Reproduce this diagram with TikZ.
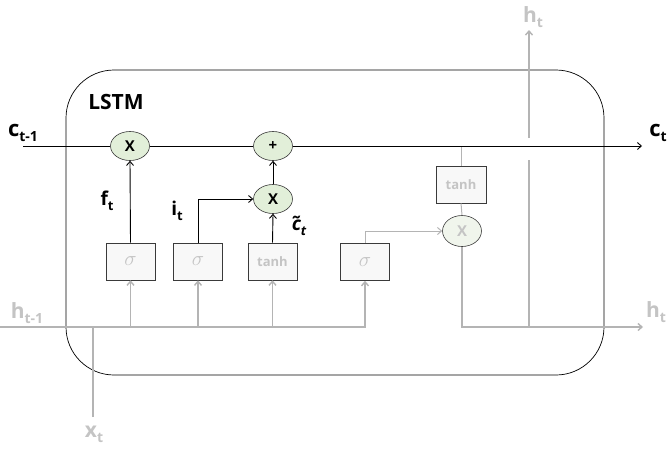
\documentclass[tikz,border=0pt]{standalone}
\usepackage{fontspec}
\setmainfont{Open Sans}
\usetikzlibrary{arrows.meta,shapes.geometric}
\definecolor{gline}{HTML}{B4B4B4}
\definecolor{gtext}{HTML}{C4C4C4}
\definecolor{boxfill}{HTML}{F8F8F8}
\definecolor{boxdraw}{HTML}{3A3A3A}
\definecolor{opfill}{HTML}{E2EFD9}
\definecolor{opfillb}{HTML}{F0F5EC}
\newcommand\mylab[3][13]{#2\raisebox{-0.45ex}{\fontsize{#1}{#1}\selectfont #3}}
\tikzset{
  tip/.style={-{Straight Barb[length=4pt,width=7pt]}},
  kline/.style={draw=black, line width=0.9pt},
  gl/.style={draw=gline, line width=1.4pt},
  opnode/.style={ellipse, draw=boxdraw, fill=opfill, line width=0.6pt, minimum width=39pt, minimum height=29pt, inner sep=0pt, font=\fontsize{15}{15}\selectfont\bfseries},
  opout/.style={opnode, fill=opfillb, text=gtext, minimum height=31pt},
  gatebox/.style={rectangle, draw=boxdraw, fill=boxfill, line width=0.6pt, minimum width=49pt, minimum height=37pt, inner sep=0pt, text=gtext},
  sig/.style={gatebox, font=\fontsize{21}{21}\selectfont},
  tnh/.style={gatebox, font=\fontsize{13}{13}\selectfont\bfseries},
  blab/.style={font=\fontsize{19}{19}\selectfont\bfseries, inner sep=0pt},
  clab/.style={blab, font=\fontsize{22}{22}\selectfont\bfseries},
  glab/.style={blab, font=\fontsize{21}{21}\selectfont\bfseries, text=gtext},
}
\begin{document}
\begin{tikzpicture}[x=1pt,y=-1pt]
\useasboundingbox (0,0) rectangle (668,448);
% frame
\draw[line width=0.7pt, rounded corners=48pt] (66,70) rectangle (604,375);
% coordinates
\coordinate (cin) at (23,146);
\coordinate (cout) at (642,146);
\coordinate (hin) at (0,327);
\coordinate (hout) at (643,327);
\coordinate (xin) at (93,417);
\coordinate (hup) at (529,30);
\coordinate (hb) at (529,327);
\coordinate (hg1) at (529,160);
\coordinate (hg2) at (529,138);
% nodes
\node[opnode] (f) at (130,146) {X};
\node[opnode] (p) at (273,146) {+};
\node[opnode] (m) at (273,199) {X};
\node[opout] (o) at (462,231) {X};
\node[sig] (s1) at (130.5,261.5) {$\sigma$};
\node[sig] (s2) at (198,261.5) {$\sigma$};
\node[tnh] (th) at (272.5,261.5) {tanh};
\node[sig] (s3) at (365,262) {$\sigma$};
\node[tnh, minimum width=50pt] (th2) at (461,184.5) {tanh};
% gray connectors
\draw[gl] (xin) -- (xin |- hin);
\draw[gl, tip] (hin) -| (s3.south);
\draw[gl, tip] (s1.south |- hin) -- (s1.south);
\draw[gl, tip] (s2.south |- hin) -- (s2.south);
\draw[gl, tip] (th.south |- hin) -- (th.south);
\draw[gl, tip, line width=1pt] (s3.north) |- (o.west);
\draw[gl, line width=1pt] (th2.north |- cin) -- (th2.north);
\draw[gl, line width=1pt] (th2.south) -- (o.north);
\draw[gl, tip] (o.south) |- (hout);
\draw[gl] (hb) -- (hg1);
\draw[gl, tip] (hg2) -- (hup);
% black connectors
\draw[kline] (cin) -- (f.west);
\draw[kline] (f.east) -- (p.west);
\draw[kline, tip] (p.east) -- (cout);
\draw[kline, tip] (s1.north) -- (f.south);
\draw[kline, tip] (s2.north) |- (m.west);
\draw[kline, tip] (th.north) -- (m.south);
\draw[kline, tip] (m.north) -- (p.south);
% labels
\node[font=\fontsize{21}{21}\selectfont\bfseries] (lstm) at (116,102) {LSTM};
\node[clab] (lc1) at (23,133) {\mylab[14]{c}{t-1}};
\node[clab] (lc2) at (658,133) {\mylab[14]{c}{t}};
\node[glab] (lh1) at (27,313) {\mylab[14]{h}{t-1}};
\node[glab] (lh2) at (656,312) {\mylab[14]{h}{t}};
\node[glab] (lh3) at (533,17) {\mylab[14]{h}{t}};
\node[glab] (lx) at (94,434) {\mylab[14]{x}{t}};
\node[blab] (lf) at (107,201) {\mylab{f}{t}};
\node[blab] (li) at (177,211) {\mylab{i}{t}};
\node[blab] (lct) at (299,226) {\mylab{\itshape\~{c}}{t}};
\end{tikzpicture}
\end{document}
